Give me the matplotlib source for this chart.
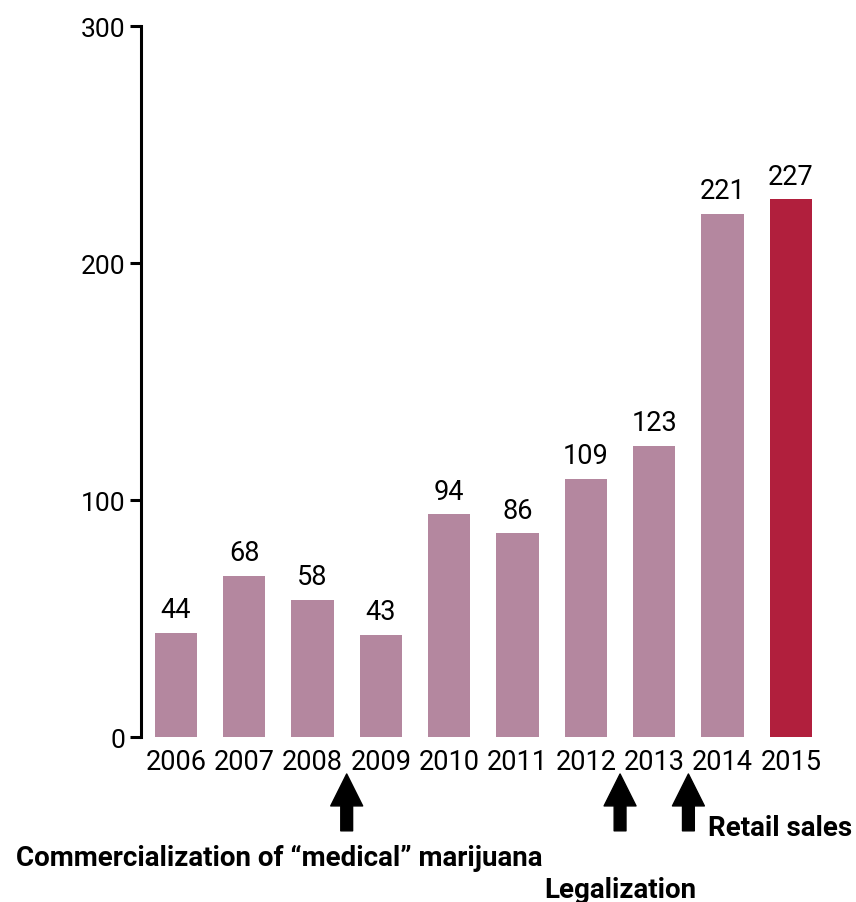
import matplotlib.pyplot as plt
import matplotlib.transforms as mtransforms

plt.rcParams['font.family'] = ['Roboto', 'DejaVu Sans']

# дані
years = ['2006', '2007', '2008', '2009', '2010', '2011', '2012', '2013', '2014', '2015']
values = [44, 68, 58, 43, 94, 86, 109, 123, 221, 227]
colors = ['#B4879F'] * 9 + ['#B11F3D']

# події між роками (позиція на осі x)
event_pos = [2.5, 6.5, 7.5]

fig = plt.figure(figsize=(8.56, 9.03), dpi=100)
ax = fig.add_axes([0.1647, 0.1827, 0.800, 0.787])

x = list(range(len(years)))
bars = ax.bar(x, values, width=0.62, color=colors)
for xi, v in zip(x, values):
    ax.annotate(str(v), (xi, v), xytext=(0, 7), textcoords='offset points',
                ha='center', va='bottom', fontsize=19.5)

ax.set_xlim(-0.51, 9.51)
ax.set_ylim(0, 300)
ax.set_yticks([0, 100, 200, 300])
ax.set_xticks(x)
ax.set_xticklabels(years)
ax.tick_params(axis='x', length=0, pad=8, labelsize=19.5)
ax.tick_params(axis='y', length=8, width=2.2, pad=3, labelsize=19)
for s in ['top', 'right', 'bottom']:
    ax.spines[s].set_visible(False)
ax.spines['left'].set_linewidth(2.2)

# стрілки під віссю
trans = mtransforms.blended_transform_factory(ax.transData, ax.transAxes)
for ex in event_pos:
    ax.annotate('', xy=(ex, -0.052), xycoords=trans,
                xytext=(ex, -0.132), textcoords=trans,
                arrowprops=dict(arrowstyle='simple,head_length=1.0,head_width=1.0,tail_width=0.37',
                                mutation_scale=23, color='black', shrinkA=0, shrinkB=0),
                annotation_clip=False)

ax.text(5.37, -0.169, 'Commercialization of \u201cmedical\u201d marijuana', transform=trans,
        ha='right', va='center', fontsize=20, fontweight='bold')
ax.text(6.5, -0.214, 'Legalization', transform=trans,
        ha='center', va='center', fontsize=20, fontweight='bold')
ax.text(7.78, -0.127, 'Retail sales', transform=trans,
        ha='left', va='center', fontsize=20, fontweight='bold')

fig.savefig('out.png', dpi=100)
